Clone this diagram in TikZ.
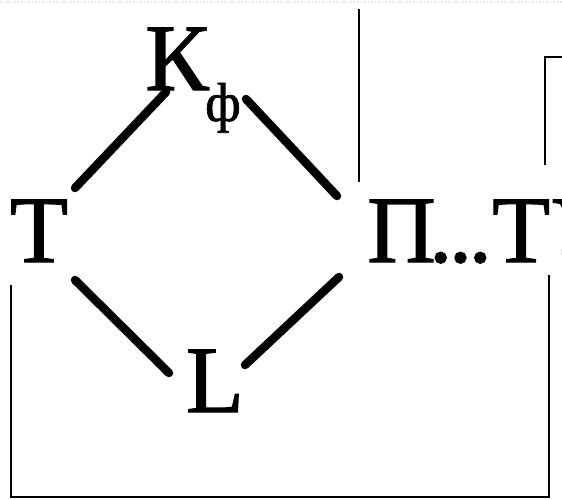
\documentclass[tikz,border=0pt]{standalone}
\usepackage{fontspec}
\setmainfont{Liberation Serif}
\newfontfamily\scanserif{Liberation Serif}[FakeBold=1.2]
\begin{document}
\begin{tikzpicture}[x=1pt,y=-1pt,
  lbl/.style={inner sep=0pt, font=\scanserif\fontsize{95}{100}\selectfont, anchor=base},
  sublbl/.style={inner sep=0pt, font=\scanserif\fontsize{55}{60}\selectfont, anchor=base},
  bond/.style={line width=8.5pt, line cap=round},
  frameline/.style={line width=2.2pt},
  scanline/.style={gray!20, dotted, line width=1.5pt}]
\useasboundingbox (0,0) rectangle (562,499);
% faint scan artefact at the top
\draw[scanline] (0,2) -- (562,2);
% labels
\node[lbl] (K) at (177,90) {К};
\node[sublbl] (f) at (223,121) {ф};
\node[lbl] (T) at (39,262) {Т};
\node[lbl, anchor=base west] (P) at (367,262) {П\kern-7pt.\kern-4pt.\kern-4pt.ТУ};
\node[lbl] (L) at (215,412) {L};
% connector end points near the labels
\coordinate (kt) at (166,92);
\coordinate (tk) at (75,188);
\coordinate (kp) at (246,99);
\coordinate (pk) at (337,196);
\coordinate (tl) at (75,280);
\coordinate (lt) at (169,373);
\coordinate (lp) at (245,365);
\coordinate (pl) at (339,277);
\draw[bond] (kt) -- (tk);
\draw[bond] (kp) -- (pk);
\draw[bond] (tl) -- (lt);
\draw[bond] (lp) -- (pl);
% frame lines
\draw[frameline] (359,9) -- (359,182);
\draw[frameline] (545,165) -- (545,57) -- (562,57);
\draw[frameline] (11,285) -- (11,497) -- (549,497) -- (549,275);
\end{tikzpicture}
\end{document}
